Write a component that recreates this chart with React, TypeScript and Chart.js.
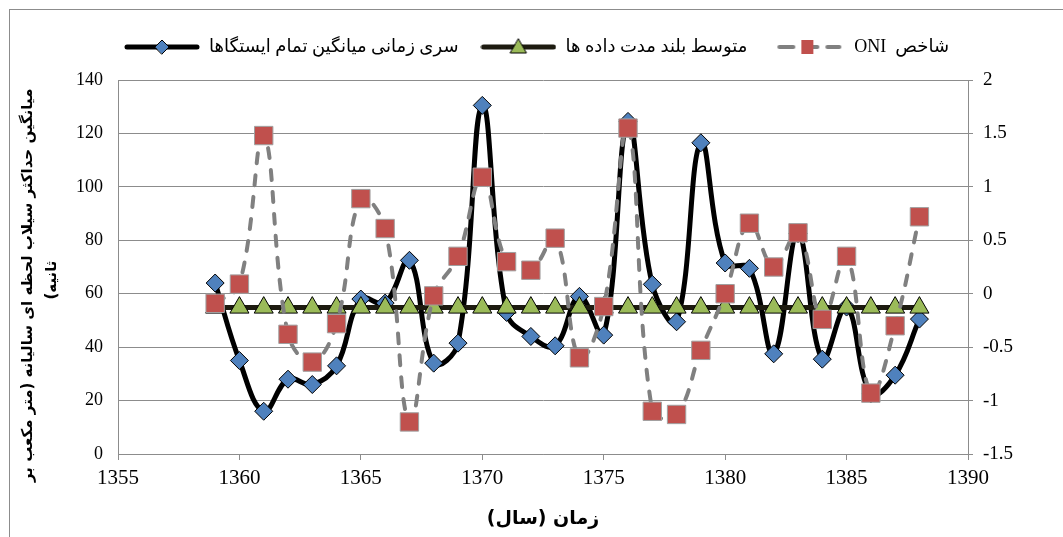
import React, { useEffect, useRef } from "react";
import { Chart, registerables } from "chart.js";

Chart.register(...registerables);

// ---------- data ----------
const years = [
  1359, 1360, 1361, 1362, 1363, 1364, 1365, 1366, 1367, 1368,
  1369, 1370, 1371, 1372, 1373, 1374, 1375, 1376, 1377, 1378,
  1379, 1380, 1381, 1382, 1383, 1384, 1385, 1386, 1387, 1388,
];
// سری زمانی میانگین تمام ایستگاها (left axis)
const stationMean = [
  64, 35, 16, 28, 26, 33, 58, 56.5, 72.5, 34,
  41.5, 130.5, 53, 44, 40.5, 59, 44.5, 124.5, 63.5, 49.5,
  116.5, 71.5, 69.5, 37.5, 82.5, 35.5, 55, 22.5, 29.5, 50.5,
];
// متوسط بلند مدت داده ها (left axis)
const longTermMean = [
  54.8, 54.8, 54.8, 54.8, 54.8, 54.8, 54.8, 54.8, 54.8, 54.8,
  54.8, 54.8, 54.8, 54.8, 54.8, 54.8, 54.8, 54.8, 54.8, 54.8,
  54.8, 54.8, 54.8, 54.8, 54.8, 54.8, 54.8, 54.8, 54.8, 54.8,
];
// شاخص ONI (right axis)
const oniIndex = [
  -0.09, 0.09, 1.48, -0.38, -0.64, -0.28, 0.89, 0.61, -1.2, -0.02,
  0.35, 1.09, 0.3, 0.22, 0.52, -0.6, -0.12, 1.55, -1.1, -1.13,
  -0.53, 0.0, 0.66, 0.25, 0.57, -0.24, 0.35, -0.93, -0.3, 0.72,
];

const seriesLabels = [
  "سری زمانی میانگین تمام ایستگاها",
  "متوسط بلند مدت داده ها",
  "شاخص  ONI",
];
const yTitleLines = [
  "       میانگین حداکثر سیلاب لحظه ای سالیانه (متر مکعب بر",
  "     ثانیه)",
];
const xTitleText = "زمان (سال)";

const xRange = [1355, 1390];
const xStep = 5;
const yLeftRange = [0, 140];
const yLeftStep = 20;
const yRightRange = [-1.5, 2];
const yRightStep = 0.5;

// ---------- helpers ----------
const rtl = (s: string) => "\u202B" + s + "\u202C";
const SERIF = "'Liberation Serif', 'DejaVu Sans', serif";
const PERSIAN = "'DejaVu Sans', 'Liberation Serif', sans-serif";
const GRID = "#8c8c8c";

function makeIcon(kind: number): HTMLCanvasElement {
  const c = document.createElement("canvas");
  const w = 76;
  const h = 22;
  c.width = w;
  c.height = h;
  const ctx = c.getContext("2d")!;
  const cy = h / 2;
  const cx = w / 2;
  ctx.lineCap = "round";
  if (kind === 0) {
    ctx.strokeStyle = "#000";
    ctx.lineWidth = 5;
    ctx.beginPath();
    ctx.moveTo(3, cy);
    ctx.lineTo(w - 3, cy);
    ctx.stroke();
    ctx.fillStyle = "#4f81bd";
    ctx.strokeStyle = "#000";
    ctx.lineWidth = 1;
    ctx.beginPath();
    ctx.moveTo(cx - 7, cy);
    ctx.lineTo(cx, cy - 7);
    ctx.lineTo(cx + 7, cy);
    ctx.lineTo(cx, cy + 7);
    ctx.closePath();
    ctx.fill();
    ctx.stroke();
  } else if (kind === 1) {
    ctx.strokeStyle = "#1d1b10";
    ctx.lineWidth = 5;
    ctx.beginPath();
    ctx.moveTo(3, cy);
    ctx.lineTo(w - 3, cy);
    ctx.stroke();
    ctx.fillStyle = "#9bbb59";
    ctx.strokeStyle = "#000";
    ctx.lineWidth = 1;
    ctx.beginPath();
    ctx.moveTo(cx, cy - 8);
    ctx.lineTo(cx + 8, cy + 6);
    ctx.lineTo(cx - 8, cy + 6);
    ctx.closePath();
    ctx.fill();
    ctx.stroke();
  } else {
    ctx.strokeStyle = "#808080";
    ctx.lineWidth = 4;
    ctx.setLineDash([14, 10]);
    ctx.beginPath();
    ctx.moveTo(10, cy);
    ctx.lineTo(w - 6, cy);
    ctx.stroke();
    ctx.setLineDash([]);
    ctx.fillStyle = "#c0504d";
    ctx.fillRect(cx - 6, cy - 7, 12, 14);
  }
  return c;
}

export default function App() {
  const ref = useRef<HTMLCanvasElement>(null);

  useEffect(() => {
    const canvas = ref.current!;
    const icons = [makeIcon(0), makeIcon(1), makeIcon(2)];
    const W = canvas.width;
    const H = canvas.height;

    const chart = new Chart(canvas, {
      type: "line",
      data: {
        datasets: [
          {
            label: rtl(seriesLabels[0]),
            data: years.map((x, i) => ({ x, y: stationMean[i] })),
            yAxisID: "y",
            borderColor: "#000",
            borderWidth: 5,
            tension: 0.4,
            pointStyle: "rectRot",
            pointRadius: 9,
            pointBackgroundColor: "#4f81bd",
            pointBorderColor: "#000",
            pointBorderWidth: 1,
            order: 3,
          },
          {
            label: rtl(seriesLabels[1]),
            data: years.map((x, i) => ({ x, y: longTermMean[i] })),
            yAxisID: "y",
            borderColor: "#1d1b10",
            borderWidth: 5,
            tension: 0,
            pointStyle: "triangle",
            pointRadius: 11,
            pointBackgroundColor: "#9bbb59",
            pointBorderColor: "#000",
            pointBorderWidth: 1,
            order: 2,
          },
          {
            label: rtl(seriesLabels[2]),
            data: years.map((x, i) => ({ x, y: oniIndex[i] })),
            yAxisID: "y1",
            borderColor: "#808080",
            borderWidth: 4,
            borderDash: [10, 12],
            borderCapStyle: "round",
            tension: 0.4,
            pointStyle: "rect",
            pointRadius: 13,
            pointBackgroundColor: "#c0504d",
            pointBorderColor: "#a0a0a0",
            pointBorderWidth: 1,
            order: 1,
          },
        ],
      },
      options: {
        responsive: false,
        animation: false,
        events: [],
        layout: { padding: { top: 6, left: 0, right: 0, bottom: 0 } },
        plugins: {
          tooltip: { enabled: false },
          legend: {
            position: "top",
            weight: 1000,
            labels: {
              usePointStyle: true,
              pointStyleWidth: 76,
              padding: 22,
              color: "#000",
              font: { family: SERIF, size: 18 },
              generateLabels: (ch: any) =>
                ch.data.datasets.map((ds: any, i: number) => ({
                  text: ds.label,
                  pointStyle: icons[i],
                  fillStyle: "transparent",
                  strokeStyle: "transparent",
                  lineWidth: 0,
                  hidden: false,
                  datasetIndex: i,
                  fontColor: "#000",
                })),
            },
          },
          title: {
            display: true,
            text: "",
            position: "top",
            weight: 1,
            padding: { top: 0, bottom: 13 },
            font: { size: 1, lineHeight: 1 },
          },
        },
        scales: {
          x: {
            type: "linear",
            min: xRange[0],
            max: xRange[1],
            border: { color: GRID, width: 1 },
            grid: { drawOnChartArea: false, color: GRID, tickLength: 6 },
            ticks: {
              stepSize: xStep,
              color: "#000",
              padding: 6,
              font: { family: SERIF, size: 21 },
              callback: (v: any) => String(v),
            },
            title: {
              display: true,
              text: rtl(xTitleText),
              color: "#000",
              font: { family: PERSIAN, size: 19, weight: "bold", lineHeight: 1.2 },
              padding: { top: 0, bottom: 7 },
            },
            afterFit: (s: any) => {
              s.height = H - 444;
            },
          },
          y: {
            type: "linear",
            position: "left",
            min: yLeftRange[0],
            max: yLeftRange[1],
            border: { color: GRID, width: 1 },
            grid: { color: GRID, drawTicks: false },
            ticks: {
              stepSize: yLeftStep,
              color: "#000",
              padding: 15,
              font: { family: SERIF, size: 18 },
              callback: (v: any) => String(v),
            },
            title: {
              display: true,
              text: yTitleLines.map(rtl),
              color: "#000",
              font: { family: PERSIAN, size: 15, weight: "bold", lineHeight: 1.6 },
              padding: { top: 6, bottom: 0 },
            },
            afterFit: (s: any) => {
              s.width = 108;
            },
          },
          y1: {
            type: "linear",
            position: "right",
            min: yRightRange[0],
            max: yRightRange[1],
            border: { color: GRID, width: 1 },
            grid: { drawOnChartArea: false, color: GRID, tickLength: 5 },
            ticks: {
              stepSize: yRightStep,
              color: "#000",
              padding: 10,
              font: { family: SERIF, size: 19 },
              callback: (v: any) => String(v),
            },
            afterFit: (s: any) => {
              s.width = W - 958;
            },
          },
        },
      } as any,
    });
    return () => chart.destroy();
  }, []);

  return (
    <div
      style={{
        position: "fixed",
        left: 9,
        top: 9,
        width: 1054,
        height: 528,
        boxSizing: "border-box",
        borderLeft: "1px solid #8c8c8c",
        borderTop: "1px solid #8c8c8c",
        background: "#fff",
      }}
    >
      <canvas ref={ref} width={1053} height={527} style={{ display: "block", width: 1053, height: 527 }} />
    </div>
  );
}
